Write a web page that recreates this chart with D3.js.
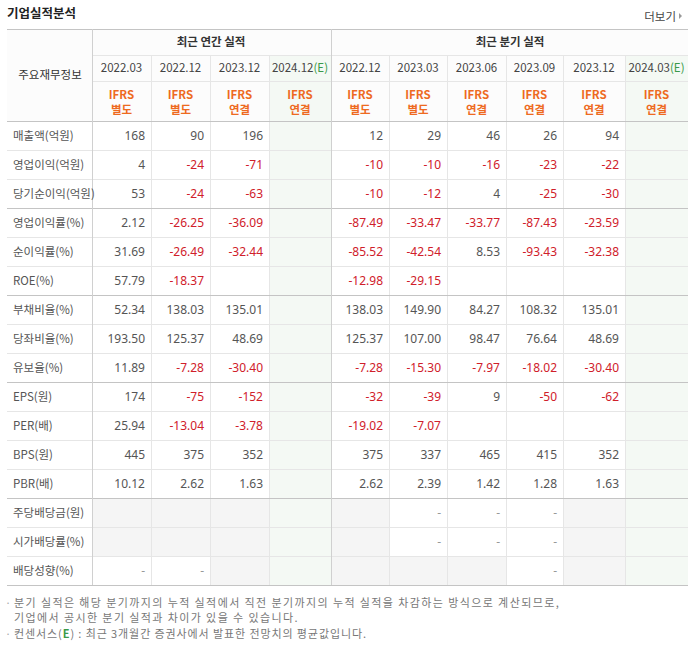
<!DOCTYPE html>
<html>
<head>
<meta charset="utf-8">
<script src="https://cdn.jsdelivr.net/npm/d3@7"></script>
<style>
  body { margin: 0; background: #fff; }
  svg text { font-family: "Noto Sans CJK KR", "Noto Sans", sans-serif; }
</style>
</head>
<body>
<svg id="chart" width="699" height="655"></svg>
<script>
// column headers
const annualPeriods = ["2022.03", "2022.12", "2023.12", "2024.12"];
const quarterPeriods = ["2022.12", "2023.03", "2023.06", "2023.09", "2023.12", "2024.03"];
const annualBasis = ["별도", "별도", "연결", "연결"];
const quarterBasis = ["별도", "별도", "연결", "연결", "연결", "연결"];
const annualEstimate = [false, false, false, true];
const quarterEstimate = [false, false, false, false, false, true];

// row labels
const rowLabels = [
  "매출액(억원)", "영업이익(억원)", "당기순이익(억원)",
  "영업이익률(%)", "순이익률(%)", "ROE(%)",
  "부채비율(%)", "당좌비율(%)", "유보율(%)",
  "EPS(원)", "PER(배)", "BPS(원)", "PBR(배)",
  "주당배당금(원)", "시가배당률(%)", "배당성향(%)"
];

// values, annual then quarter (null = empty)
const annualValues = [
  ["168", "90", "196", null],
  ["4", "-24", "-71", null],
  ["53", "-24", "-63", null],
  ["2.12", "-26.25", "-36.09", null],
  ["31.69", "-26.49", "-32.44", null],
  ["57.79", "-18.37", null, null],
  ["52.34", "138.03", "135.01", null],
  ["193.50", "125.37", "48.69", null],
  ["11.89", "-7.28", "-30.40", null],
  ["174", "-75", "-152", null],
  ["25.94", "-13.04", "-3.78", null],
  ["445", "375", "352", null],
  ["10.12", "2.62", "1.63", null],
  [null, null, null, null],
  [null, null, null, null],
  ["-", "-", null, null]
];
const quarterValues = [
  ["12", "29", "46", "26", "94", null],
  ["-10", "-10", "-16", "-23", "-22", null],
  ["-10", "-12", "4", "-25", "-30", null],
  ["-87.49", "-33.47", "-33.77", "-87.43", "-23.59", null],
  ["-85.52", "-42.54", "8.53", "-93.43", "-32.38", null],
  ["-12.98", "-29.15", null, null, null, null],
  ["138.03", "149.90", "84.27", "108.32", "135.01", null],
  ["125.37", "107.00", "98.47", "76.64", "48.69", null],
  ["-7.28", "-15.30", "-7.97", "-18.02", "-30.40", null],
  ["-32", "-39", "9", "-50", "-62", null],
  ["-19.02", "-7.07", null, null, null, null],
  ["375", "337", "465", "415", "352", null],
  ["2.62", "2.39", "1.42", "1.28", "1.63", null],
  [null, "-", "-", "-", null, null],
  [null, "-", "-", "-", null, null],
  [null, null, null, "-", null, null]
];
const groupSeparators = [3, 6, 9, 13]; // row index that starts a new block
const dividendStart = 13;

const notes = [
  "분기 실적은 해당 분기까지의 누적 실적에서 직전 분기까지의 누적 실적을 차감하는 방식으로 계산되므로,",
  "기업에서 공시한 분기 실적과 차이가 있을 수 있습니다."
];

const svg = d3.select("#chart");

// columns
const columns = [
  ...annualPeriods.map((p, i) => ({ key: "a" + i, period: p, basis: annualBasis[i], est: annualEstimate[i], group: 0, idx: i })),
  ...quarterPeriods.map((p, i) => ({ key: "q" + i, period: p, basis: quarterBasis[i], est: quarterEstimate[i], group: 1, idx: i }))
];
const colEdges = [92, 151, 210, 269, 331, 389, 447, 506, 563, 625, 688];
const colWidths = [59, 59, 59, 62, 58, 58, 59, 57, 62, 63];
const xCol = d3.scaleOrdinal().domain(columns.map(c => c.key)).range(colEdges);
const wCol = d3.scaleOrdinal().domain(columns.map(c => c.key)).range(colWidths);

const left = 7, right = 688;
const tableTop = 29, headTop = 121;
const y = d3.scaleBand().domain(d3.range(rowLabels.length)).range([headTop, 585]);

// title
svg.append("text").attr("x", 7).attr("y", 18)
  .style("font-size", "12.5px").style("font-weight", "bold").attr("fill", "#222")
  .text("기업실적분석");
svg.append("text").attr("x", 676).attr("y", 21).attr("text-anchor", "end")
  .style("font-size", "11.5px").attr("fill", "#444").text("더보기");
svg.append("path").attr("d", "M679,13 L682,16 L679,19 Z").attr("fill", "#999");

// header background
svg.append("rect").attr("x", left).attr("y", tableTop).attr("width", right - left)
  .attr("height", headTop - tableTop).attr("fill", "#fcfcfc");

// cells
const cells = [];
rowLabels.forEach((label, r) => {
  columns.forEach(c => {
    const v = c.group === 0 ? annualValues[r][c.idx] : quarterValues[r][c.idx];
    cells.push({ r, c, v });
  });
});

// backgrounds: estimate columns green, empty dividend cells grey
svg.append("g").selectAll("rect")
  .data(columns.filter(c => c.est))
  .join("rect")
  .attr("x", c => xCol(c.key)).attr("y", tableTop + 26)
  .attr("width", c => wCol(c.key)).attr("height", 585 - tableTop - 26)
  .attr("fill", "#f4f9f4");

svg.append("g").selectAll("rect")
  .data(cells.filter(d => d.r >= dividendStart && d.v === null && !d.c.est))
  .join("rect")
  .attr("x", d => xCol(d.c.key)).attr("y", d => y(d.r))
  .attr("width", d => wCol(d.c.key)).attr("height", y.bandwidth())
  .attr("fill", "#f5f5f5");

// light grid lines
const grid = svg.append("g").attr("stroke", "#e6e6e6").attr("stroke-width", 1);
grid.selectAll("line.h")
  .data(d3.range(1, rowLabels.length).filter(r => !groupSeparators.includes(r)))
  .join("line")
  .attr("x1", left).attr("x2", right)
  .attr("y1", r => y(r) + 0.5).attr("y2", r => y(r) + 0.5);
grid.append("line").attr("x1", 92).attr("x2", right).attr("y1", tableTop + 26.5).attr("y2", tableTop + 26.5);
grid.append("line").attr("x1", 92).attr("x2", right).attr("y1", tableTop + 52.5).attr("y2", tableTop + 52.5);
grid.selectAll("line.v")
  .data(columns.slice(1).filter(c => c.key !== "q0"))
  .join("line")
  .attr("x1", c => xCol(c.key) + 0.5).attr("x2", c => xCol(c.key) + 0.5)
  .attr("y1", tableTop + 26).attr("y2", 585);

// darker lines
const dark = svg.append("g").attr("stroke", "#c4c4c4").attr("stroke-width", 1);
[tableTop, headTop, ...groupSeparators.map(r => y(r)), 585].forEach(v => {
  dark.append("line").attr("x1", left).attr("x2", right).attr("y1", v + 0.5).attr("y2", v + 0.5);
});
[92, 331].forEach(v => {
  dark.append("line").attr("x1", v + 0.5).attr("x2", v + 0.5).attr("y1", tableTop).attr("y2", 585)
    .attr("stroke", "#d0d0d0");
});

// header text
svg.append("text").attr("x", 50).attr("y", 79).attr("text-anchor", "middle")
  .style("font-size", "11.5px").attr("fill", "#333").text("주요재무정보");
svg.append("text").attr("x", 211).attr("y", 46).attr("text-anchor", "middle")
  .style("font-size", "11.5px").style("font-weight", "bold").attr("fill", "#333").text("최근 연간 실적");
svg.append("text").attr("x", 510).attr("y", 46).attr("text-anchor", "middle")
  .style("font-size", "11.5px").style("font-weight", "bold").attr("fill", "#333").text("최근 분기 실적");

const periodText = svg.append("g").selectAll("text")
  .data(columns)
  .join("text")
  .attr("x", c => xCol(c.key) + wCol(c.key) / 2)
  .attr("y", 72)
  .attr("text-anchor", "middle")
  .style("font-size", "11.5px")
  .attr("fill", "#444");
periodText.append("tspan").text(c => c.period);
periodText.filter(c => c.est).append("tspan").attr("fill", "#3a9a4a").text("(E)");

const basisText = svg.append("g").selectAll("text")
  .data(columns)
  .join("text")
  .attr("x", c => xCol(c.key) + wCol(c.key) / 2)
  .attr("text-anchor", "middle")
  .style("font-size", "11.5px")
  .style("font-weight", "bold")
  .attr("fill", "#ee6a1f");
basisText.append("tspan").attr("x", c => xCol(c.key) + wCol(c.key) / 2).attr("y", 99).text("IFRS");
basisText.append("tspan").attr("x", c => xCol(c.key) + wCol(c.key) / 2).attr("y", 114).text(c => c.basis);

// row labels
svg.append("g").selectAll("text")
  .data(rowLabels)
  .join("text")
  .attr("x", 13)
  .attr("y", (d, i) => y(i) + y.bandwidth() / 2 + 4)
  .style("font-size", "11.5px")
  .attr("fill", "#555")
  .text(d => d);

// values
svg.append("g").selectAll("text")
  .data(cells.filter(d => d.v !== null))
  .join("text")
  .attr("x", d => xCol(d.c.key) + wCol(d.c.key) - 6)
  .attr("y", d => y(d.r) + y.bandwidth() / 2 + 4)
  .attr("text-anchor", "end")
  .style("font-size", "12px")
  .style("font-family", "'Noto Sans', sans-serif")
  .attr("fill", d => d.v === "-" ? "#999" : (d.v.startsWith("-") ? "#d0202a" : "#555"))
  .text(d => d.v);

// footnotes
const foot = svg.append("g").style("font-size", "11px").style("letter-spacing", "1.4px").attr("fill", "#777");
foot.append("text").attr("x", 5).attr("y", 607).attr("fill", "#aaa").text("·");
foot.append("text").attr("x", 14).attr("y", 607).text(notes[0]);
foot.append("text").attr("x", 14).attr("y", 622).text(notes[1]);
foot.append("text").attr("x", 5).attr("y", 638).attr("fill", "#aaa").text("·");
const last = foot.append("text").attr("x", 14).attr("y", 638).style("letter-spacing", "0.9px");
last.append("tspan").text("컨센서스(");
last.append("tspan").attr("fill", "#3a9a4a").style("font-weight", "bold").text("E");
last.append("tspan").text(") : 최근 3개월간 증권사에서 발표한 전망치의 평균값입니다.");
</script>
</body>
</html>
